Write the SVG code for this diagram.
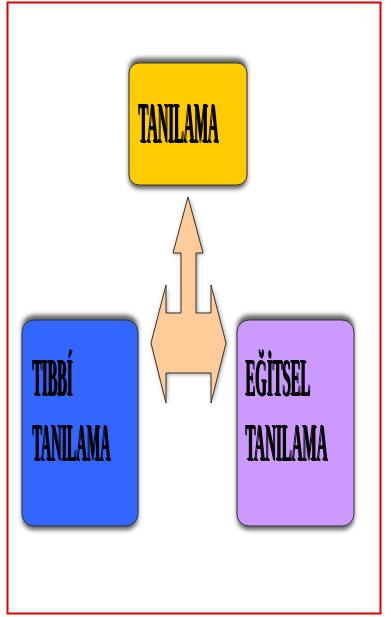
<svg xmlns="http://www.w3.org/2000/svg" width="391" height="617" viewBox="0 0 391 617">
<defs>
<filter id="sh" x="-20%" y="-20%" width="140%" height="140%"><feGaussianBlur stdDeviation="2"/></filter>
<filter id="tsh" x="-10%" y="-10%" width="130%" height="130%"><feGaussianBlur in="SourceAlpha" stdDeviation="0.7" result="b"/><feOffset in="b" dx="1" dy="0.8" result="o"/><feMerge><feMergeNode in="o"/><feMergeNode in="SourceGraphic"/></feMerge></filter>
</defs>
<style>
.shadow{fill:#333;opacity:0.75;filter:url(#sh)}
.box{stroke:#333;stroke-width:1}
.lbl{font-family:"Liberation Serif","Times New Roman",serif;font-weight:bold;font-size:14.5px;fill:#000}
</style>
<rect x="7.5" y="2.5" width="373" height="611" fill="#fff" stroke="#e00000" stroke-width="2"/>
<g id="connectors">
<polygon points="188,197 203,253 196,253 196,313 211,313 211,285 226,343 211,403 211,373 166,373 166,403 151,343 166,285 166,313 181,313 181,253 173,253" fill="#444" opacity="0.6" filter="url(#sh)" transform="translate(1,1)"/>
<polygon points="188,197 203,253 196,253 196,313 211,313 211,285 226,343 211,403 211,373 166,373 166,403 151,343 166,285 166,313 181,313 181,253 173,253" fill="#ffcc99" stroke="#333" stroke-width="1"/>
</g>
<g id="tanilama">
<rect class="shadow" x="129" y="58" width="118" height="131" rx="10"/>
<rect class="box" x="129" y="63" width="118" height="122" rx="10" fill="#ffcc00"/>
<g filter="url(#tsh)">
<text class="lbl" transform="translate(138,142) scale(1,4)" x="0" y="0" textLength="80" lengthAdjust="spacingAndGlyphs">TANILAMA</text>
</g>
</g>
<g id="tibbi">
<rect class="shadow" x="22" y="315" width="116" height="215" rx="12"/>
<rect class="box" x="22" y="320" width="116" height="206" rx="12" fill="#3366ff"/>
<g filter="url(#tsh)">
<text class="lbl" transform="translate(32,395) scale(1,3.6)" x="0" y="0" textLength="40" lengthAdjust="spacingAndGlyphs">TIBBÍ</text>
<text class="lbl" transform="translate(32,460) scale(1,3.6)" x="0" y="0" textLength="78" lengthAdjust="spacingAndGlyphs">TANILAMA</text>
</g>
</g>
<g id="egitsel">
<rect class="shadow" x="237" y="315" width="117" height="215" rx="12"/>
<rect class="box" x="237" y="320" width="117" height="206" rx="12" fill="#cc99ff"/>
<g filter="url(#tsh)">
<text class="lbl" transform="translate(245,395) scale(1,3.6)" x="0" y="0" textLength="65" lengthAdjust="spacingAndGlyphs">EĞİTSEL</text>
<text class="lbl" transform="translate(245,460) scale(1,3.6)" x="0" y="0" textLength="82" lengthAdjust="spacingAndGlyphs">TANILAMA</text>
</g>
</g>
</svg>
